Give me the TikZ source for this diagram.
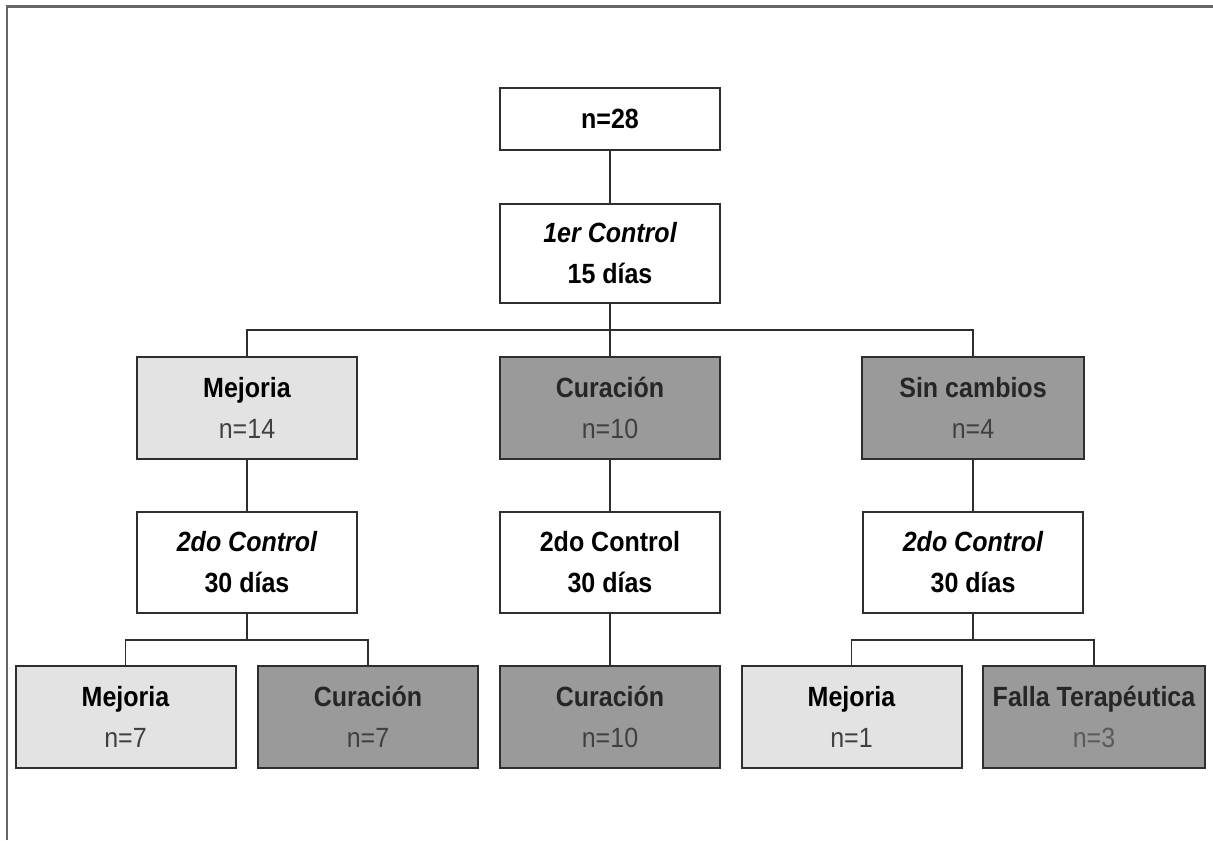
\documentclass[tikz,border=0pt]{standalone}
\usepackage{fontspec}
\setmainfont[FakeStretch=0.9]{Liberation Sans}
\definecolor{lightbox}{HTML}{E3E3E3}
\definecolor{darkbox}{HTML}{9A9A9A}
\definecolor{boxline}{HTML}{2E2E2E}
\definecolor{ntext}{HTML}{404040}
\definecolor{ntextb}{HTML}{5A5A5A}
\definecolor{framecol}{HTML}{666666}
\begin{document}
\begin{tikzpicture}[x=0.5pt,y=-0.5pt,
  box/.style={draw=boxline,line width=1pt,rectangle,minimum width=110pt,minimum height=51pt,
    inner sep=0pt,align=center,font=\fontsize{13.9}{20.5}\selectfont\bfseries},
  whitebox/.style={box,fill=white},
  lightb/.style={box,fill=lightbox},
  darkb/.style={box,fill=darkbox,text=black!85},
  conn/.style={draw=boxline,line width=0.8pt}]
\useasboundingbox (0,0) rectangle (1213,840);
\draw[framecol,line width=1.2pt] (7,840) -- (7,6.5) -- (1213,6.5);

\node[whitebox,minimum height=31pt] (n28) at (610,119) {n=28};
\node[whitebox,minimum height=49.5pt] (c1) at (610,253.5) {\itshape 1er Control\\15 días};

\node[lightb] (m1) at (247,408) {Mejoria\\\mdseries\color{ntext}n=14};
\node[darkb] (cu1) at (610,408) {Curación\\\mdseries\color{ntext}n=10};
\node[darkb,minimum width=111pt] (sc) at (973,408) {Sin cambios\\\mdseries\color{ntext}n=4};

\node[whitebox,minimum height=50.5pt] (c2l) at (247,562.5) {\itshape 2do Control\\30 días};
\node[whitebox,minimum height=50.5pt] (c2m) at (610,562.5) {2do Control\\30 días};
\node[whitebox,minimum height=50.5pt] (c2r) at (973,562.5) {\itshape 2do Control\\30 días};

\node[lightb] (b1) at (125.5,717) {Mejoria\\\mdseries\color{ntext}n=7};
\node[darkb] (b2) at (368,717) {Curación\\\mdseries\color{ntext}n=7};
\node[darkb] (b3) at (610,717) {Curación\\\mdseries\color{ntext}n=10};
\node[lightb] (b4) at (851.5,717) {Mejoria\\\mdseries\color{ntext}n=1};
\node[darkb,minimum width=111pt] (b5) at (1094,717) {Falla Terapéutica\\\mdseries\color{ntextb}n=3};

\coordinate (j1) at (610,330);
\coordinate (j2) at (247,640);
\coordinate (j3) at (973,640);

\draw[conn] (n28.south) -- (c1.north);
\draw[conn] (c1.south) -- (j1);
\draw[conn] (m1.north) |- (j1) -| (sc.north);
\draw[conn] (j1) -- (cu1.north);

\draw[conn] (m1.south) -- (c2l.north);
\draw[conn] (cu1.south) -- (c2m.north);
\draw[conn] (sc.south) -- (c2r.north);

\draw[conn] (c2l.south) -- (j2);
\draw[conn] (b1.north) |- (j2) -| (b2.north);
\draw[conn] (c2m.south) -- (b3.north);
\draw[conn] (c2r.south) -- (j3);
\draw[conn] (b4.north) |- (j3) -| (b5.north);
\end{tikzpicture}
\end{document}
